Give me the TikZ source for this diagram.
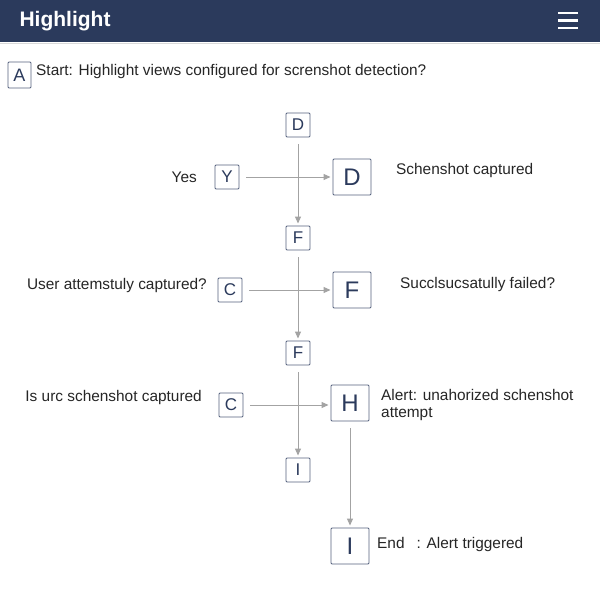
\documentclass[tikz,border=0pt]{standalone}
\usepackage{fontspec}
\setmainfont{Liberation Sans}
\usetikzlibrary{arrows.meta}
\definecolor{navy}{HTML}{2B3A5C}
\definecolor{bx}{HTML}{56637F}
\definecolor{ar}{HTML}{A3A3A3}
\begin{document}
\begin{tikzpicture}[x=1pt,y=-1pt,
  sb/.style={draw=bx,line width=0.9pt,rounded corners=1pt,fill=white,minimum width=24pt,minimum height=24pt,inner sep=0pt,text=navy,font=\fontsize{17}{19}\selectfont},
  bb/.style={sb,minimum width=38pt,minimum height=36pt,font=\fontsize{24}{26}\selectfont},
  lb/.style={font=\fontsize{15.4}{17.5}\selectfont,text=black!85,inner sep=0pt},
  ln/.style={draw=ar,line width=1pt},
  arr/.style={ln,shorten <=7pt,shorten >=2pt,-{Triangle[length=7pt,width=6pt]}}]
\useasboundingbox (0,0) rectangle (600,600);
\fill[white] (0,0) rectangle (600,600);
\fill[navy] (0,0) rectangle (600,42);
\draw[gray!30] (0,43) -- (600,43);
\node[anchor=west,text=white,font=\bfseries\fontsize{21}{23}\selectfont] (title) at (16,21) {Highlight};
\foreach \yy in {13,20.5,28} \draw[white,line width=2.2pt] (558,\yy) -- (578,\yy);
\node[sb,minimum width=23pt,minimum height=26pt,font=\fontsize{18}{20}\selectfont] (a) at (19.5,75) {A};
\node[lb,anchor=west] (start) at (36,72) {Start: Highlight views configured for screnshot detection?};
\node[sb] (d1) at (298,125) {D};
\node[sb] (y) at (227,177) {Y};
\node[lb,anchor=east] (yes) at (197,177) {Yes};
\node[bb] (d2) at (352,177) {D};
\node[lb,anchor=west] (t1) at (396,171) {Schenshot captured};
\node[sb] (f1) at (298,238) {F};
\node[sb] (c1) at (230,290) {C};
\node[lb,anchor=east] (t2) at (207,286) {User attemstuly captured?};
\node[bb] (f2) at (352,290) {F};
\node[lb,anchor=west] (t3) at (400,285) {Succlsucsatully failed?};
\node[sb] (f3) at (298,353) {F};
\node[sb] (c2) at (231,405) {C};
\node[lb,anchor=east] (t4) at (202,398) {Is urc schenshot captured};
\node[bb] (h) at (350,403) {H};
\node[lb,anchor=north west,align=left] (t5) at (381,389) {Alert: unahorized schenshot\\attempt};
\node[sb] (i1) at (298,470) {I};
\node[bb] (i2) at (350,546) {I};
\node[lb,anchor=west] (t6) at (377,545) {End\enspace\ : Alert triggered};
\draw[arr] (d1) -- (f1);
\draw[arr] (y) -- (d2);
\draw[arr] (f1) -- (f3);
\draw[arr] (c1) -- (f2);
\draw[arr] (f3) -- (i1);
\draw[arr] (c2) -- (c2 -| h.west);
\draw[arr] (h) -- (i2);
\end{tikzpicture}
\end{document}
